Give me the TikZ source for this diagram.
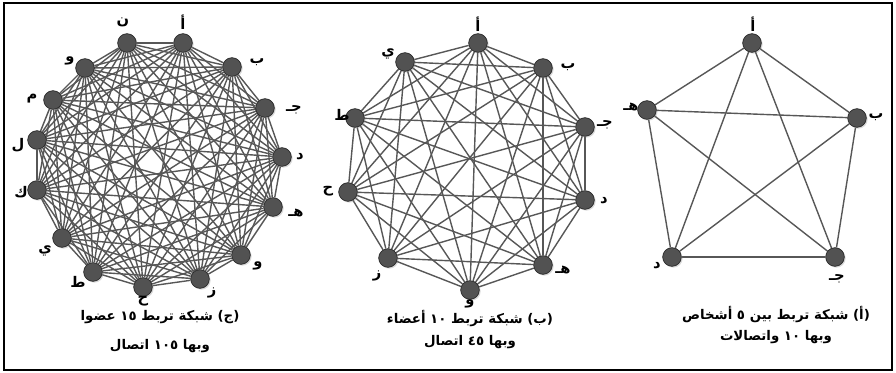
\documentclass[tikz,border=0pt]{standalone}
\usepackage{fontspec}
\newfontfamily\arabicfont[Script=Arabic]{DejaVu Sans}
\TeXXeTstate=1
\usetikzlibrary{shadows,backgrounds}

\tikzset{
  member/.style={circle, fill=black!68, draw=black!85, line width=0.5pt,
    minimum size=14pt, inner sep=0pt,
    drop shadow={shadow xshift=1pt, shadow yshift=-1pt, opacity=0.3}},
  link/.style={draw=black!66, line width=1.05pt},
  letter/.style={font=\arabicfont\bfseries\fontsize{11}{11}\selectfont, inner sep=0pt},
  caption/.style={font=\arabicfont\bfseries\fontsize{10}{10}\selectfont, inner sep=0pt}
}

\begin{document}
\begin{tikzpicture}[x=0.75pt, y=-0.75pt]
  %%%%% START %%%%%
  \useasboundingbox (0,0) rectangle (896,373);
  \draw[line width=1.5pt] (4,3) rectangle (892,370);

  % (c) fifteen members
  \foreach \n/\x/\y/\lx/\ly/\lbl in {1/183/43/183/22/أ, 2/232/67/257/62/ب, 3/265/108/294/110/جـ,
      4/282/157/300/157/د, 5/273/207/296/213/هـ, 6/241/255/258/266/و, 7/200/279/212/293/ز,
      8/143/287/143/301/ح, 9/93/272/78/282/ط, 10/62/238/45/251/ي, 11/37/190/21/192/ك,
      12/37/140/18/145/ل, 13/53/100/32/99/م, 14/85/68/70/61/و, 15/127/43/123/22/ن}{
    \node[member] (c\n) at (\x,\y) {};
    \node[letter] (lc\n) at (\lx,\ly) {\beginR\lbl\endR};
  }
  \begin{pgfonlayer}{background}
    \foreach \i in {1,...,14}{
      \pgfmathtruncatemacro\nxt{\i+1}
      \foreach \j in {\nxt,...,15} \draw[link] (c\i) -- (c\j);
    }
  \end{pgfonlayer}
  \node[caption] (capc1) at (160,317) {\beginR(ج) شبكة تربط ١٥ عضوا\endR};
  \node[caption] (capc2) at (160,346) {\beginR وبها ١٠٥ اتصال\endR};

  % (b) ten members
  \foreach \n/\x/\y/\lx/\ly/\lbl in {1/478/43/478/24/أ, 2/543/68/568/67/ب, 3/585/127/605/125/جـ,
      4/585/200/604/201/د, 5/543/265/563/270/هـ, 6/470/290/470/304/و, 7/388/258/377/276/ز,
      8/348/192/328/191/ح, 9/355/118/342/115/ط, 10/405/62/388/54/ي}{
    \node[member] (b\n) at (\x,\y) {};
    \node[letter] (lb\n) at (\lx,\ly) {\beginR\lbl\endR};
  }
  \begin{pgfonlayer}{background}
    \foreach \i in {1,...,9}{
      \pgfmathtruncatemacro\nxt{\i+1}
      \foreach \j in {\nxt,...,10} \draw[link] (b\i) -- (b\j);
    }
  \end{pgfonlayer}
  \node[caption] (capb1) at (470,319) {\beginR(ب) شبكة تربط ١٠ أعضاء\endR};
  \node[caption] (capb2) at (470,342) {\beginR وبها ٤٥ اتصال\endR};

  % (a) five members
  \foreach \n/\x/\y/\lx/\ly/\lbl in {1/752/43/753/24/أ, 2/857/118/876/117/ب, 3/835/257/837/279/جـ,
      4/672/257/657/266/د, 5/647/110/631/107/هـ}{
    \node[member] (a\n) at (\x,\y) {};
    \node[letter] (la\n) at (\lx,\ly) {\beginR\lbl\endR};
  }
  \begin{pgfonlayer}{background}
    \foreach \i in {1,...,4}{
      \pgfmathtruncatemacro\nxt{\i+1}
      \foreach \j in {\nxt,...,5} \draw[link] (a\i) -- (a\j);
    }
  \end{pgfonlayer}
  \node[caption] (capa1) at (776,315) {\beginR(أ) شبكة تربط بين ٥ أشخاص\endR};
  \node[caption] (capa2) at (776,337) {\beginR وبها ١٠ واتصالات\endR};
  %%%%% END %%%%%
\end{tikzpicture}
\end{document}
